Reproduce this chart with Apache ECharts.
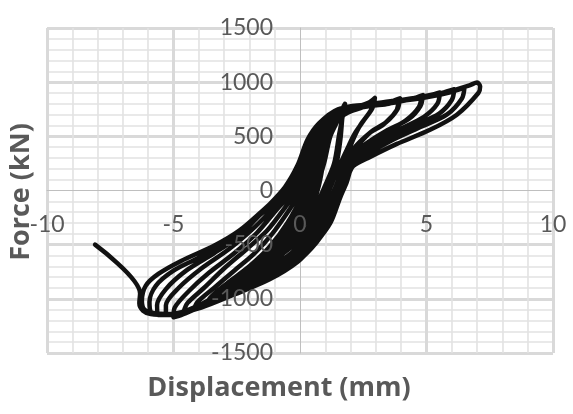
<!DOCTYPE html>
<html><head><meta charset="utf-8">
<script src="https://cdn.jsdelivr.net/npm/echarts@6/dist/echarts.min.js"></script>
<style>html,body{margin:0;padding:0;background:#fff}#c{width:573px;height:414px}</style>
</head><body><div id="c"></div>
<script>
const xTitle = 'Displacement (mm)';
const yTitle = 'Force (kN)';
const xRange = [-10, 10, 5];
const yRange = [-1500, 1500, 500];

// Hysteresis cycles, [displacement mm, force kN]
const cycle01 = [[0,0],[0.4,300],[0.8,550],[1.2,680],
  [1.1,560],[0.95,300],[0.75,50],[0.4,-200],[-0.2,-450],[-0.9,-640],[-1.5,-760],
  [-1.35,-690],[-0.8,-570],[-0.2,-400],[0.25,-200],[0.6,0],[0.95,250],[1.2,500],[1.5,650],[1.78,800]];
const cycle02 = [[1.7,700],[1.55,520],[1.35,250],[1.0,50],[0.5,-200],[-0.15,-400],[-1.0,-570],[-1.7,-700],[-2.2,-860],
  [-2.05,-790],[-1.4,-670],[-0.7,-500],[0.0,-260],[0.5,0],[0.85,250],[1.15,500],[1.45,650],[1.75,790]];
const cycle03 = [[1.68,690],[1.6,480],[1.45,260],[1.1,30],[0.6,-230],[0,-430],[-0.9,-600],[-1.8,-740],[-2.5,-860],[-2.7,-940],
  [-2.55,-870],[-1.9,-760],[-1.2,-620],[-0.5,-420],[0.1,-150],[0.5,120],[0.85,400],[1.15,600],[1.6,720],[2.2,770],[2.7,810],[2.96,855]];
const cycle04 = [[2.86,760],[2.5,640],[2.15,520],[2.0,450],[1.5,200],[1.15,0],[0.65,-250],[0,-450],[-0.9,-620],[-2.0,-770],[-2.8,-880],[-3.2,-1010],
  [-3.05,-940],[-2.4,-820],[-1.6,-660],[-0.9,-480],[-0.25,-250],[0.3,0],[0.7,220],[1.0,450],[1.3,620],[1.9,720],[2.5,770],[2.9,835]];
const cycle05 = [[2.8,740],[2.4,610],[2.1,470],[1.85,320],[1.55,120],[1.25,-50],[0.75,-280],[0.1,-480],[-0.8,-660],[-1.9,-800],[-3.0,-930],[-3.5,-1010],[-3.7,-1060],
  [-3.55,-990],[-2.9,-860],[-2.0,-700],[-1.2,-520],[-0.5,-300],[0.15,-20],[0.6,220],[0.95,450],[1.25,620],[1.9,730],[2.8,790],[3.5,815],[3.95,850]];
const cycle06 = [[3.85,750],[3.4,630],[2.8,540],[2.1,380],[1.6,150],[1.3,-50],[0.8,-300],[0.15,-500],[-0.8,-680],[-1.9,-820],[-3.1,-950],[-3.9,-1050],[-4.2,-1100],
  [-4.05,-1030],[-3.4,-900],[-2.6,-740],[-1.8,-580],[-1.1,-400],[-0.4,-170],[0.05,0],[0.45,200],[0.8,450],[1.15,620],[1.8,730],[2.8,780],[3.5,800],[3.9,835]];
const cycle07 = [[3.8,730],[3.3,610],[2.7,520],[2.1,350],[1.65,120],[1.35,-80],[0.9,-310],[0.25,-510],[-0.65,-690],[-1.75,-830],[-3.05,-960],[-4.2,-1080],[-4.6,-1120],
  [-4.45,-1040],[-3.8,-900],[-3.0,-720],[-2.1,-540],[-1.3,-370],[-0.6,-160],[-0.1,0],[0.35,200],[0.7,450],[1.05,620],[1.7,740],[2.6,780],[3.6,810],[4.4,845],[4.86,880]];
const cycle08 = [[4.76,780],[4.3,660],[3.4,550],[2.6,430],[2.1,320],[1.7,100],[1.4,-100],[1.0,-320],[0.4,-520],[-0.45,-690],[-1.5,-830],[-2.8,-960],[-4.0,-1080],[-4.7,-1150],[-5.0,-1170],
  [-4.95,-1080],[-4.4,-930],[-3.6,-760],[-2.6,-580],[-1.7,-390],[-0.9,-170],[-0.25,0],[0.25,200],[0.6,450],[1.0,620],[1.7,745],[2.7,785],[3.8,815],[4.8,870]];
const cycle09 = [[4.7,770],[4.2,650],[3.3,530],[2.5,400],[2.1,290],[1.78,100],[1.5,-70],[1.1,-310],[0.5,-510],[-0.3,-680],[-1.4,-830],[-2.8,-970],[-4.1,-1090],[-4.9,-1140],[-5.3,-1150],
  [-5.3,-1060],[-4.8,-900],[-3.9,-720],[-2.8,-540],[-1.8,-340],[-1.0,-150],[-0.35,20],[0.2,220],[0.55,460],[0.95,620],[1.7,750],[2.7,790],[3.9,825],[4.8,865],[5.3,890],[5.53,905]];
const cycle10 = [[5.43,800],[4.9,680],[3.9,560],[2.9,430],[2.25,300],[1.85,110],[1.55,-60],[1.15,-300],[0.55,-500],[-0.2,-670],[-1.3,-820],[-2.7,-960],[-4.0,-1080],[-5.0,-1140],[-5.6,-1150],
  [-5.65,-1060],[-5.3,-910],[-4.5,-740],[-3.4,-580],[-2.4,-420],[-1.6,-230],[-0.8,-70],[-0.3,100],[0.15,300],[0.5,500],[0.9,640],[1.6,750],[2.6,790],[3.8,825],[4.9,860],[5.6,900],[6.1,935]];
const cycle11 = [[6.0,835],[5.5,710],[4.5,600],[3.4,480],[2.6,360],[2.1,250],[1.85,80],[1.58,-70],[1.2,-300],[0.6,-490],[-0.1,-660],[-1.2,-820],[-2.6,-960],[-3.9,-1080],[-5.1,-1140],[-5.7,-1140],[-5.9,-1120],
  [-5.95,-1030],[-5.7,-880],[-5.0,-740],[-4.0,-620],[-3.0,-480],[-2.1,-330],[-1.3,-150],[-0.6,30],[-0.1,230],[0.3,470],[0.75,620],[1.5,750],[2.5,785],[3.8,820],[5.0,860],[5.9,905],[6.5,950]];
const cycle12 = [[6.4,850],[5.8,700],[4.7,580],[3.6,460],[2.7,340],[2.1,235],[1.85,100],[1.6,-50],[1.2,-290],[0.65,-480],[-0.1,-655],[-1.2,-815],[-2.7,-955],[-4.0,-1080],[-5.1,-1140],[-5.8,-1130],[-6.15,-1100],
  [-6.25,-1020],[-6.1,-880],[-5.6,-770],[-4.7,-650],[-3.4,-510],[-2.4,-370],[-1.5,-190],[-0.8,-40],[-0.4,40],[0.12,220],[0.45,450],[0.9,610],[1.7,760],[2.5,790],[3.8,830],[5.0,870],[6.0,920],[6.7,970],[7.0,997]];
const cycle13 = [[7.12,960],[7.05,900],[6.2,700],[5.14,560],[3.83,430],[2.77,310],[2.1,225],[1.85,100],[1.62,-40],[1.22,-280],[0.7,-460],[-0.1,-640],[-1.2,-800],[-2.7,-945],[-4.05,-1070],[-5.2,-1150],[-5.9,-1140],[-6.2,-1110],[-6.35,-1040],[-6.32,-950]];
const tail = [[-8.1,-500]];

const path = [].concat(cycle01, cycle02, cycle03, cycle04, cycle05, cycle06, cycle07,
  cycle08, cycle09, cycle10, cycle11, cycle12, cycle13, tail);

const labelColor = '#595959';
const tickFont = 'Lato, "Open Sans", sans-serif';
const titleFont = '"Open Sans", Lato, sans-serif';
const major = '#d9d9d9';
const clear = 'rgba(0,0,0,0)';

const L = 47, R = 20, T = 28, B = 61, W = 573, H = 414;
const gridPos = { left: L, right: R, top: T, bottom: B };
const plotW = W - L - R, plotH = H - T - B;

function gridAxis(r) {
  const n = Math.round((r[1] - r[0]) / r[2]) + 1;
  const zeroIdx = Math.round((0 - r[0]) / r[2]);
  const colors = [];
  for (let i = 0; i < n; i++) colors.push(i === zeroIdx ? clear : major);
  return {
    type: 'value', gridIndex: 0, min: r[0], max: r[1], interval: r[2], z: 0,
    axisLine: { show: true, onZero: true, lineStyle: { color: '#bfbfbf', width: 1 } },
    axisTick: { show: false },
    axisLabel: { show: false },
    splitLine: { show: true, lineStyle: { width: 3, color: colors } },
    minorTick: { show: false, splitNumber: 5 },
    minorSplitLine: { show: true, lineStyle: { width: 1.6, color: '#e2e2e2' } }
  };
}
function labelAxis(r, isX) {
  const span = isX ? plotH : plotW;
  const zeroFrac = isX ? (0 - yRange[0]) / (yRange[1] - yRange[0]) : (0 - xRange[0]) / (xRange[1] - xRange[0]);
  return {
    type: 'value', gridIndex: 1, min: r[0], max: r[1], interval: r[2], z: 10,
    position: isX ? 'bottom' : 'left',
    offset: -span * zeroFrac,
    axisLine: { show: false, onZero: false },
    axisTick: { show: false },
    splitLine: { show: false },
    axisLabel: { show: true, color: labelColor, fontFamily: tickFont, fontSize: 23,
      margin: isX ? 23 : 27, formatter: v => String(v) }
  };
}

const chart = echarts.init(document.getElementById('c'), null, { renderer: 'canvas' });
chart.setOption({
  animation: false,
  backgroundColor: '#fff',
  grid: [Object.assign({}, gridPos), Object.assign({}, gridPos)],
  xAxis: [gridAxis(xRange), labelAxis(xRange, true)],
  yAxis: [gridAxis(yRange), labelAxis(yRange, false)],
  series: [{
    type: 'line', xAxisIndex: 0, yAxisIndex: 0, data: path,
    showSymbol: false, smooth: 0.3, z: 3,
    lineStyle: { color: '#111', width: 4.5, join: 'round', cap: 'round' }
  }],
  graphic: [
    { type: 'text', x: 279, y: 388, z: 20, style: { text: xTitle, font: 'bold 27px ' + titleFont, fill: labelColor, textAlign: 'center', textVerticalAlign: 'middle' } },
    { type: 'text', x: 21, y: 192, rotation: Math.PI / 2, z: 20, style: { text: yTitle, font: 'bold 27px ' + titleFont, fill: labelColor, textAlign: 'center', textVerticalAlign: 'middle' } }
  ]
});
</script></body></html>
